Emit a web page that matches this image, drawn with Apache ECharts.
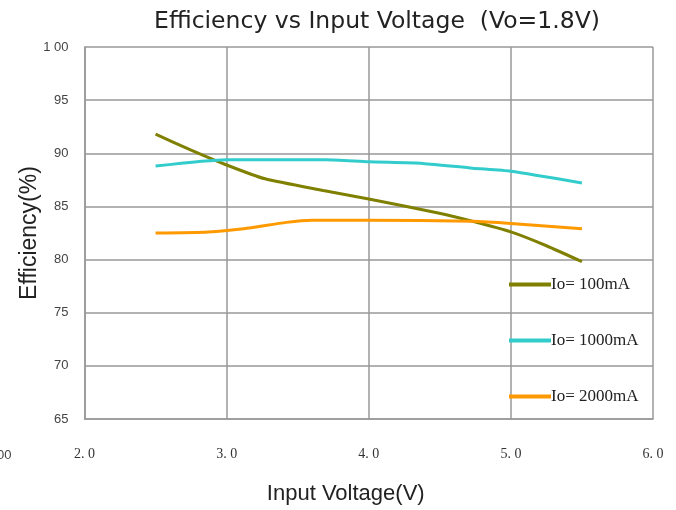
<!DOCTYPE html>
<html><head><meta charset="utf-8">
<script src="https://cdn.jsdelivr.net/npm/echarts@6/dist/echarts.min.js"></script>
<style>html,body{margin:0;padding:0;background:#fff}#c{width:676px;height:510px}</style>
</head><body><div id="c"></div>
<script>
const xTicks = [2, 3, 4, 5, 6];
const yTicks = [65, 70, 75, 80, 85, 90, 95, 100];
const seriesNames = ['Io= 100mA', 'Io= 1000mA', 'Io= 2000mA'];
const io100 = [[2.5, 91.8], [2.75, 90.3], [3.0, 88.9], [3.27, 87.6], [3.68, 86.5], [4.0, 85.7], [4.48, 84.4], [4.73, 83.6], [5.0, 82.6], [5.25, 81.3], [5.5, 79.8]];
const io1000 = [[2.5, 88.8], [3.0, 89.4], [3.7, 89.4], [4.0, 89.2], [4.38, 89.05], [4.73, 88.6], [5.0, 88.3], [5.5, 87.2]];
const io2000 = [[2.5, 82.5], [2.87, 82.6], [3.12, 82.9], [3.42, 83.5], [3.6, 83.7], [4.0, 83.7], [4.73, 83.6], [5.0, 83.4], [5.5, 82.9]];

const colors = ['#808000', '#33CCCC', '#FF9900'];
const chart = echarts.init(document.getElementById('c'));
chart.setOption({
  animation: false,
  title: {
    text: 'Efficiency vs Input Voltage  (Vo=1.8V)',
    left: 372, top: 5, textAlign: 'center',
    textStyle: {fontFamily: 'DejaVu Sans', fontSize: 23.5, fontWeight: 'normal', color: '#222'}
  },
  legend: {
    orient: 'vertical', left: 504, top: 271, itemGap: 39,
    itemWidth: 42, itemHeight: 4, icon: 'rect',
    data: seriesNames,
    textStyle: {fontFamily: 'Liberation Serif', fontSize: 17, color: '#222', padding: [0, 0, 0, -5]}
  },
  grid: {left: 84.5, right: 23, top: 47, bottom: 91, outerBoundsMode: 'none', containLabel: false},
  xAxis: {
    type: 'value', min: xTicks[0], max: xTicks[xTicks.length - 1], interval: 1,
    name: 'Input Voltage(V)', nameLocation: 'middle', nameGap: 64, nameMoveOverlap: false,
    nameTextStyle: {fontFamily: 'Liberation Sans', fontSize: 22, color: '#222', padding: [0, 46, 0, 0]},
    axisLine: {show: true, lineStyle: {color: '#999', width: 1.5}},
    axisTick: {show: false},
    axisLabel: {margin: 28, fontFamily: 'Liberation Serif', fontSize: 14, color: '#333',
      formatter: v => v.toFixed(1).replace('.', '. ')},
    splitLine: {show: true, lineStyle: {color: '#999', width: 1.5}}
  },
  yAxis: {
    type: 'value', min: yTicks[0], max: yTicks[yTicks.length - 1], interval: 5,
    name: 'Efficiency(%)', nameLocation: 'middle', nameGap: 43, nameRotate: 90, nameMoveOverlap: false,
    nameTextStyle: {fontFamily: 'Liberation Sans', fontSize: 23, color: '#222'},
    axisLine: {show: true, lineStyle: {color: '#999', width: 1.5}},
    axisTick: {show: false},
    axisLabel: {margin: 16, fontFamily: 'Liberation Sans', fontSize: 13, color: '#444',
      formatter: v => v === 100 ? '1 00' : String(v)},
    splitLine: {show: true, lineStyle: {color: '#999', width: 1.5}}
  },
  graphic: [
    {type: 'text', left: -3, top: 449, style: {text: '00', font: '13px Liberation Sans', fill: '#444'}}
  ],
  series: [
    {name: seriesNames[0], type: 'line', data: io100, showSymbol: false, smooth: 0.2, lineStyle: {width: 3, color: colors[0]}, itemStyle: {color: colors[0]}},
    {name: seriesNames[1], type: 'line', data: io1000, showSymbol: false, smooth: 0.2, lineStyle: {width: 3, color: colors[1]}, itemStyle: {color: colors[1]}},
    {name: seriesNames[2], type: 'line', data: io2000, showSymbol: false, smooth: 0.2, lineStyle: {width: 3, color: colors[2]}, itemStyle: {color: colors[2]}}
  ]
});
</script></body></html>
